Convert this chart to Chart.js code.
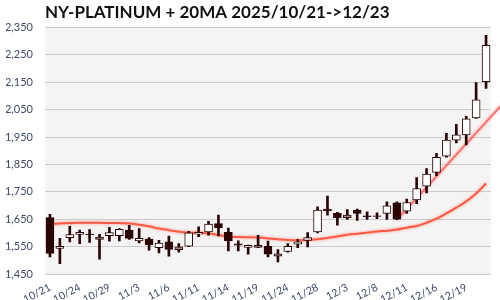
<!DOCTYPE html>
<html>
<head>
<meta charset="utf-8">
<script src="https://cdn.jsdelivr.net/npm/chart.js@4.4.1/dist/chart.umd.min.js"></script>
<style>
  html, body { margin: 0; padding: 0; background: #ffffff; }
  canvas { display: block; }
</style>
</head>
<body>
<canvas id="chart" width="500" height="300"></canvas>
<script>
// trading days 2025/10/21 -> 12/23
const dates = ['10/21', '10/22', '10/23', '10/24', '10/27', '10/28', '10/29', '10/30', '10/31',
    '11/3', '11/4', '11/5', '11/6', '11/7', '11/10', '11/11', '11/12', '11/13', '11/14', '11/17',
    '11/18', '11/19', '11/20', '11/21', '11/24', '11/25', '11/26', '11/28',
    '12/1', '12/2', '12/3', '12/4', '12/5', '12/8', '12/9', '12/10', '12/11', '12/12', '12/15',
    '12/16', '12/17', '12/18', '12/19', '12/22', '12/23'];

const open = [1656, 1543, 1583, 1594, 1596, 1576, 1590, 1590, 1610, 1571, 1577, 1546, 1567, 1539, 1552,
    1595, 1604, 1634, 1602, 1560, 1547, 1555, 1551, 1515, 1532, 1559, 1573, 1604, 1687, 1671,
    1656, 1683, 1662, 1662, 1671, 1710, 1679, 1720, 1771, 1821, 1880, 1938, 1958, 2020, 2152];
const high = [1668, 1580, 1624, 1610, 1612, 1595, 1620, 1616, 1628, 1616, 1583, 1573, 1588, 1561, 1606,
    1622, 1642, 1665, 1618, 1571, 1556, 1591, 1570, 1539, 1561, 1576, 1601, 1695, 1734, 1675,
    1685, 1687, 1677, 1673, 1713, 1713, 1723, 1802, 1835, 1890, 1963, 1996, 2025, 2149, 2321];
const low = [1512, 1488, 1567, 1561, 1565, 1504, 1570, 1571, 1576, 1563, 1537, 1527, 1515, 1530, 1550,
    1586, 1592, 1589, 1534, 1534, 1522, 1546, 1512, 1494, 1530, 1546, 1549, 1600, 1665, 1628,
    1649, 1646, 1649, 1652, 1649, 1648, 1671, 1707, 1746, 1809, 1876, 1928, 1921, 2018, 2127];
const close = [1525, 1551, 1594, 1602, 1593, 1585, 1601, 1613, 1580, 1580, 1557, 1563, 1540, 1549, 1600,
    1602, 1632, 1618, 1571, 1555, 1555, 1547, 1522, 1524, 1551, 1567, 1583, 1683, 1680, 1656,
    1665, 1671, 1659, 1660, 1699, 1650, 1711, 1762, 1815, 1876, 1939, 1958, 2016, 2086, 2285];

// days drawn with a grey body in the original
const greyDays = ['10/28', '11/7', '11/19', '11/21', '12/3'];

const ma20 = [1632, 1634, 1636, 1637, 1637, 1637, 1636, 1636, 1634, 1630, 1624, 1616, 1610, 1604, 1601,
    1601, 1598, 1592, 1587, 1585, 1584, 1583, 1580, 1577, 1574, 1573, 1574, 1577, 1581, 1587,
    1593, 1597, 1601, 1605, 1608, 1612, 1619, 1625, 1637, 1652, 1671, 1692, 1715, 1744, 1780];

// hand-drawn trend line from the 12/10 low
const trendX = [35, 46];
const trendY = [1648, 2084];

const dark = '#2b0505';
const tickColor = '#3d4a66';
const tickFont = { family: 'Lato', size: 11 };

const bodyFills = dates.map((d, i) => {
    if (greyDays.includes(d)) return '#a08c8c';
    return close[i] >= open[i] ? '#ffffff' : dark;
});

const plotBackground = {
    id: 'plotBackground',
    beforeDraw(chart) {
        const { ctx, chartArea: a } = chart;
        ctx.save();
        ctx.fillStyle = '#f4f4f4';
        ctx.fillRect(a.left, a.top, a.right - a.left, a.bottom - a.top);
        ctx.restore();
    },
};

const lineGlow = {
    id: 'lineGlow',
    beforeDatasetDraw(chart, args) {
        if (chart.data.datasets[args.index].type !== 'line') return;
        chart.ctx.save();
        chart.ctx.shadowColor = 'rgba(255, 80, 60, 0.6)';
        chart.ctx.shadowBlur = 3;
    },
    afterDatasetDraw(chart, args) {
        if (chart.data.datasets[args.index].type === 'line') chart.ctx.restore();
    },
};

new Chart(document.getElementById('chart'), {
    type: 'bar',
    data: {
        datasets: [
            {
                type: 'line',
                data: ma20.map((v, i) => ({ x: i, y: v })),
                borderColor: '#ff5a45',
                borderWidth: 2,
                pointRadius: 0,
                tension: 0.4,
                order: 4,
            },
            {
                type: 'line',
                data: trendX.map((x, i) => ({ x, y: trendY[i] })),
                borderColor: 'rgba(255, 100, 100, 0.85)',
                borderWidth: 2,
                pointRadius: 0,
                clip: false,
                order: 3,
            },
            {
                data: dates.map((d, i) => ({ x: i, y: [low[i], high[i]] })),
                backgroundColor: dark,
                borderWidth: 0,
                barThickness: 2,
                grouped: false,
                order: 2,
            },
            {
                data: dates.map((d, i) => ({ x: i, y: [open[i], close[i]] })),
                backgroundColor: bodyFills,
                borderColor: dark,
                borderWidth: 1,
                borderSkipped: false,
                barThickness: 8,
                grouped: false,
                order: 1,
            },
        ],
    },
    options: {
        responsive: false,
        animation: false,
        layout: { padding: { left: 6, right: 9, top: 0, bottom: 0 } },
        plugins: {
            legend: { display: false },
            tooltip: { enabled: false },
            title: {
                display: true,
                text: 'NY-PLATINUM + 20MA 2025/10/21->12/23',
                align: 'start',
                fullSize: false,
                color: '#111111',
                font: { family: 'Lato', size: 17, weight: 'bold' },
                padding: { top: 2, bottom: 5 },
            },
        },
        scales: {
            x: {
                type: 'linear',
                min: -0.5,
                max: 44.5,
                offset: false,
                grid: { display: false },
                border: { display: false },
                afterBuildTicks: axis => {
                    axis.ticks = dates.map((d, i) => i).filter(i => i % 3 === 0).map(i => ({ value: i }));
                },
                afterFit: axis => { axis.height = 26; },
                ticks: {
                    autoSkip: false,
                    minRotation: 28,
                    maxRotation: 28,
                    padding: -1,
                    color: tickColor,
                    font: { family: 'Lato', size: 10.5 },
                    callback: value => dates[value] ?? '',
                },
            },
            y: {
                min: 1450,
                max: 2350,
                grid: { color: '#cccccc', drawTicks: false },
                border: { display: false },
                afterFit: axis => { axis.width = 39; },
                ticks: { stepSize: 50, padding: 12, color: tickColor, font: tickFont },
            },
        },
    },
    plugins: [plotBackground, lineGlow],
});
</script>
</body>
</html>
